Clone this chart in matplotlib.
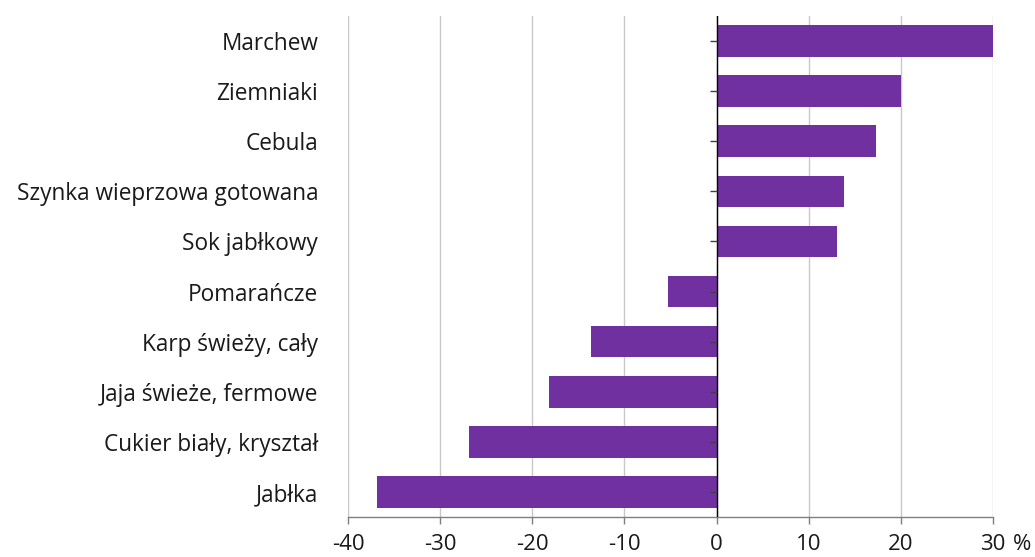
import matplotlib
matplotlib.use("Agg")
import matplotlib.pyplot as plt
from matplotlib.lines import TICKLEFT

categories = ["Marchew", "Ziemniaki", "Cebula", "Szynka wieprzowa gotowana",
              "Sok jabłkowy", "Pomarańcze", "Karp świeży, cały",
              "Jaja świeże, fermowe", "Cukier biały, kryształ", "Jabłka"]
values = [30.0, 20.0, 17.3, 13.8, 13.1, -5.3, -13.6, -18.2, -26.9, -36.8]
xticks = [-40, -30, -20, -10, 0, 10, 20, 30]

plt.rcParams['font.family'] = ['Open Sans', 'DejaVu Sans']

fig = plt.figure(figsize=(10.35, 5.57), dpi=100)
ax = fig.add_axes([348/1035, 1-517/557, (993-348)/1035, (517-16)/557])

ypos = list(range(len(categories)))[::-1]
ax.barh(ypos, values, height=0.63, color="#7030A0", zorder=3)

ax.set_xlim(-40, 30)
ax.set_ylim(-0.5, len(categories) - 0.5)
ax.set_xticks(xticks)
ax.set_xticklabels([str(t) for t in xticks])
ax.set_yticks(ypos)
ax.set_yticklabels(categories)

ax.grid(axis="x", color="#c8c8c8", linewidth=1, zorder=0)
ax.set_axisbelow(True)
for s in ["top", "right", "left"]:
    ax.spines[s].set_visible(False)
ax.spines["bottom"].set_color("#7f7f7f")
ax.spines["bottom"].set_linewidth(1)

tick_len = 5
tick_pad = 7.5
ax.tick_params(axis="y", length=0, pad=21.5, labelsize=16.3, labelcolor="#1a1a1a")
ax.tick_params(axis="x", length=tick_len, width=1, color="#7f7f7f", pad=tick_pad,
               labelsize=16, labelcolor="#1a1a1a")

# zero line with small ticks
ax.axvline(0, color="black", linewidth=1, zorder=4)
ax.plot([0] * len(ypos), ypos, linestyle="none", marker=TICKLEFT,
        markersize=5, markeredgewidth=1, color="#404040", zorder=5)

ax.annotate("%", xy=(1.0, 0.0), xycoords="axes fraction",
            xytext=(14.4, -(tick_len + tick_pad)), textcoords="offset points",
            ha="left", va="top", fontsize=16, color="#1a1a1a")

fig.savefig("out.png", dpi=100)
